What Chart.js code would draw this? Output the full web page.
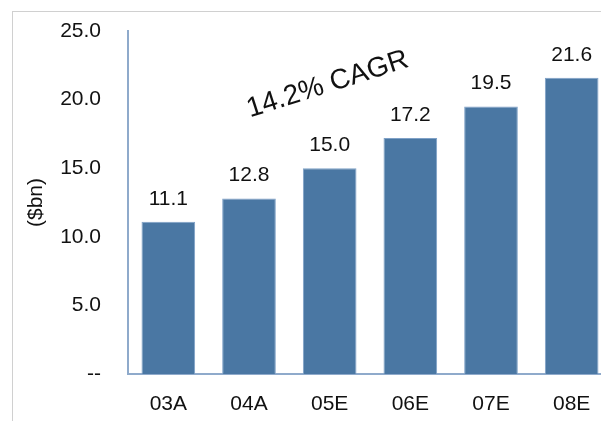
<!DOCTYPE html>
<html>
<head>
<meta charset="utf-8">
<script src="https://cdn.jsdelivr.net/npm/chart.js@4"></script>
<style>
    html, body { margin: 0; padding: 0; background: #fff; overflow: hidden; }
    #wrap { position: relative; width: 601px; height: 421px; overflow: hidden; }
    #frame { position: absolute; left: 12px; top: 11px; right: 0; bottom: 0;
             border-top: 1px solid #d0d0d0; border-left: 1px solid #d0d0d0; }
    #box { position: absolute; left: 0; top: 0; width: 612px; height: 421px; }
</style>
</head>
<body>
<div id="wrap">
    <div id="frame"></div>
    <div id="box"><canvas id="revChart"></canvas></div>
</div>
<script>
// Werte ($bn)
const years = ['03A', '04A', '05E', '06E', '07E', '08E'];
const revenue = [11.1, 12.8, 15.0, 17.2, 19.5, 21.6];
const yTicks = [0, 5, 10, 15, 20, 25];
const cagrText = '14.2% CAGR';
const axisTitle = '($bn)';

const fontFamily = '"Liberation Sans", Arial, sans-serif';

// Wertbeschriftung über den Balken
const valueLabels = {
    id: 'valueLabels',
    afterDatasetsDraw(chart) {
        const ctx = chart.ctx;
        const meta = chart.getDatasetMeta(0);
        ctx.save();
        ctx.font = '21px ' + fontFamily;
        ctx.fillStyle = '#111';
        ctx.textAlign = 'center';
        ctx.textBaseline = 'alphabetic';
        meta.data.forEach((bar, i) => {
            ctx.fillText(revenue[i].toFixed(1), bar.x, bar.y - 17);
        });
        ctx.restore();
    }
};

// CAGR-Text, schräg
const cagrLabel = {
    id: 'cagrLabel',
    afterDraw(chart) {
        const ctx = chart.ctx;
        ctx.save();
        ctx.translate(330, 92);
        ctx.rotate(-17.7 * Math.PI / 180);
        ctx.font = '28px ' + fontFamily;
        ctx.fillStyle = '#111';
        ctx.textAlign = 'center';
        ctx.textBaseline = 'alphabetic';
        ctx.fillText(cagrText, 0, 0);
        ctx.restore();
    }
};

const revCanvas = document.getElementById('revChart').getContext('2d');
new Chart(revCanvas, {
    type: 'bar',
    data: {
        labels: years,
        datasets: [{
            label: 'Revenue',
            data: revenue,
            backgroundColor: '#4A77A3',
            borderColor: '#7FA1C7',
            borderWidth: 1,
            categoryPercentage: 1,
            barPercentage: 0.665
        }]
    },
    options: {
        responsive: true,
        maintainAspectRatio: false,
        animation: false,
        layout: {
            padding: { top: 31, right: 0, bottom: 0, left: 0 }
        },
        scales: {
            x: {
                offset: true,
                grid: { display: false, drawTicks: false },
                border: { color: '#8FAACB', width: 2 },
                ticks: {
                    color: '#111',
                    padding: 18,
                    font: { family: fontFamily, size: 21 }
                },
                afterFit: s => {
                    s.height = 47;
                    s.paddingLeft = 0;
                    s.paddingRight = 0;
                }
            },
            y: {
                min: 0,
                max: 25,
                afterBuildTicks: s => { s.ticks = yTicks.map(v => ({ value: v })); },
                grid: { display: false, drawTicks: false },
                border: { color: '#8FAACB', width: 2 },
                ticks: {
                    color: '#111',
                    padding: 27,
                    font: { family: fontFamily, size: 21 },
                    callback: v => v === 0 ? '--' : Number(v).toFixed(1)
                },
                title: {
                    display: true,
                    text: axisTitle,
                    color: '#111',
                    font: { family: fontFamily, size: 21 },
                    padding: { top: 24, bottom: 0 }
                },
                afterFit: s => {
                    s.width = 128;
                    s.paddingTop = 0;
                    s.paddingBottom = 0;
                }
            }
        },
        plugins: {
            legend: { display: false },
            tooltip: { enabled: false }
        }
    },
    plugins: [valueLabels, cagrLabel]
});
</script>
</body>
</html>
